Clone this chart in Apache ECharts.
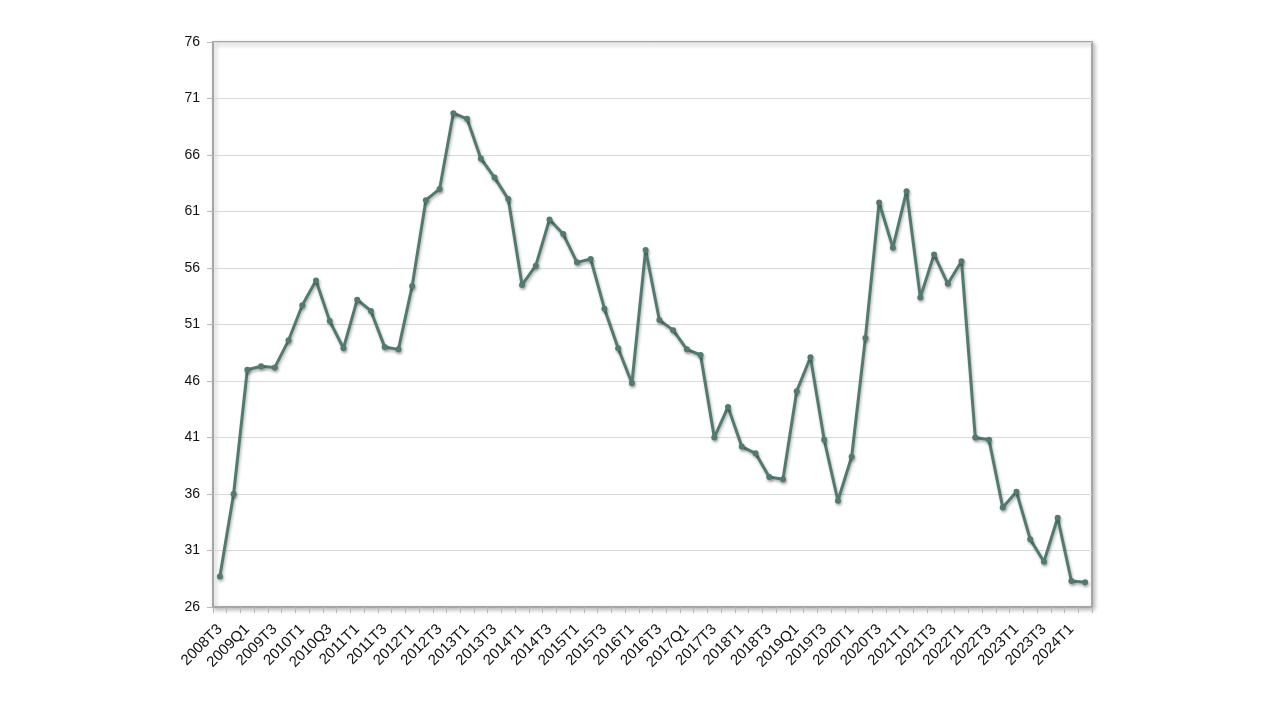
<!DOCTYPE html>
<html>
<head>
<meta charset="utf-8">
<style>
  html, body { margin: 0; padding: 0; background: #fff; }
  #chart { width: 1280px; height: 720px; }
</style>
<script src="https://cdn.jsdelivr.net/npm/echarts@6/dist/echarts.min.js"></script>
</head>
<body>
<div id="chart"></div>
<script>
  // quarters, 2008 Q3 .. 2024 Q2
  const categories = [
    '2008T3', '2008T4',
    '2009Q1', '2009T2', '2009T3', '2009T4',
    '2010T1', '2010T2', '2010Q3', '2010T4',
    '2011T1', '2011T2', '2011T3', '2011T4',
    '2012T1', '2012T2', '2012T3', '2012T4',
    '2013T1', '2013T2', '2013T3', '2013T4',
    '2014T1', '2014T2', '2014T3', '2014T4',
    '2015T1', '2015T2', '2015T3', '2015T4',
    '2016T1', '2016T2', '2016T3', '2016T4',
    '2017Q1', '2017T2', '2017T3', '2017T4',
    '2018T1', '2018T2', '2018T3', '2018T4',
    '2019Q1', '2019T2', '2019T3', '2019T4',
    '2020T1', '2020T2', '2020T3', '2020T4',
    '2021T1', '2021T2', '2021T3', '2021T4',
    '2022T1', '2022T2', '2022T3', '2022T4',
    '2023T1', '2023T2', '2023T3', '2023T4',
    '2024T1', '2024T2',
  ];

  const values = [
    28.7, 36.0,
    47.0, 47.3, 47.2, 49.6,
    52.7, 54.9, 51.3, 48.9,
    53.2, 52.2, 49.0, 48.8,
    54.4, 62.0, 63.0, 69.7,
    69.2, 65.7, 64.0, 62.1,
    54.5, 56.2, 60.3, 59.0,
    56.5, 56.8, 52.4, 48.9,
    45.8, 57.6, 51.4, 50.5,
    48.8, 48.3, 41.0, 43.7,
    40.2, 39.6, 37.5, 37.3,
    45.1, 48.1, 40.8, 35.4,
    39.3, 49.8, 61.8, 57.8,
    62.8, 53.4, 57.2, 54.6,
    56.6, 41.0, 40.8, 34.8,
    36.2, 32.0, 30.0, 33.9,
    28.3, 28.2,
  ];

  const yMin = 26;
  const yMax = 76;
  const yStep = 5;

  const chart = echarts.init(document.getElementById('chart'));
  const option = {
    backgroundColor: '#ffffff',
    animation: false,
    grid: {
      show: true,
      left: 213,
      right: 188,
      top: 42,
      bottom: 113,
      borderColor: '#a6a6a6',
      borderWidth: 2,
      backgroundColor: '#ffffff',
      shadowColor: 'rgba(0,0,0,0.25)',
      shadowBlur: 4,
      shadowOffsetX: 2,
      shadowOffsetY: 2,
    },
    xAxis: {
      type: 'category',
      data: categories,
      boundaryGap: true,
      axisLine: {
        show: true,
        lineStyle: { color: '#a6a6a6', width: 2 },
      },
      axisTick: {
        show: true,
        interval: 0,
        length: 6,
        lineStyle: { color: '#b8b8b8', width: 1 },
      },
      axisLabel: {
        interval: 1,
        rotate: 45,
        margin: 20,
        color: '#111',
        fontSize: 15,
        fontFamily: '"Liberation Sans", Arial, sans-serif',
      },
      splitLine: { show: false },
    },
    yAxis: {
      type: 'value',
      min: yMin,
      max: yMax,
      interval: yStep,
      axisLine: {
        show: true,
        lineStyle: { color: '#a6a6a6', width: 2 },
      },
      axisTick: {
        show: true,
        length: 6,
        lineStyle: { color: '#b8b8b8', width: 1 },
      },
      axisLabel: {
        margin: 13,
        color: '#111',
        fontSize: 14,
        fontFamily: '"Liberation Sans", Arial, sans-serif',
      },
      splitLine: {
        show: true,
        lineStyle: { color: '#d9d9d9', width: 1 },
      },
    },
    series: [
      {
        type: 'line',
        data: values,
        symbol: 'circle',
        symbolSize: 6,
        itemStyle: {
          color: '#527a70',
          shadowColor: 'rgba(0,0,0,0.3)',
          shadowBlur: 3,
          shadowOffsetX: 1,
          shadowOffsetY: 2,
        },
        lineStyle: {
          color: '#527a70',
          width: 3,
          shadowColor: 'rgba(0,0,0,0.3)',
          shadowBlur: 3,
          shadowOffsetX: 1,
          shadowOffsetY: 2,
        },
      },
    ],
  };
  chart.setOption(option);
</script>
</body>
</html>
